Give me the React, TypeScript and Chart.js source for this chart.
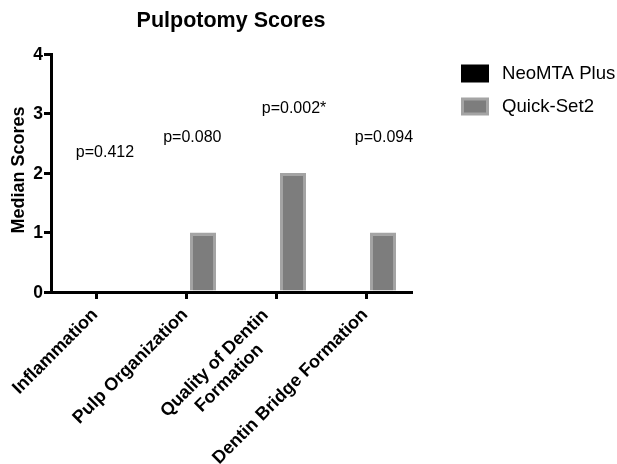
import React, { useEffect, useRef } from "react";
import { Chart, registerables } from "chart.js";

Chart.register(...registerables);

const categories: string[][] = [
  ["Inflammation"],
  ["Pulp Organization"],
  ["Quality of Dentin", "Formation"],
  ["Dentin Bridge Formation"],
];
const neoMTAPlus = [0, 0, 0, 0];
const quickSet2 = [0, 1, 2, 1];
const yTicks = [0, 1, 2, 3, 4];
const pValues = ["p=0.412", "p=0.080", "p=0.002*", "p=0.094"];
const pValueHeights = [2.35, 2.59, 3.09, 2.59];
const pValueShift = [0.1, 0.07, 0.2, 0.2];
const seriesNames = ["NeoMTA Plus", "Quick-Set2"];
const chartTitle = "Pulpotomy Scores";
const yTitle = "Median Scores";

const FONT = '"Liberation Sans", Arial, Helvetica, sans-serif';
const GRAY_FILL = "#7d7d7d";
const GRAY_BORDER = "#a4a4a4";

const decorPlugin = {
  id: "decor",
  afterDraw(chart: any) {
    const ctx = chart.ctx as CanvasRenderingContext2D;
    const area = chart.chartArea;
    const xs = chart.scales.x;
    const ys = chart.scales.y;
    ctx.save();
    ctx.fillStyle = "#000";

    // Title
    ctx.font = `bold 21.5px ${FONT}`;
    ctx.textAlign = "center";
    ctx.textBaseline = "alphabetic";
    ctx.fillText(chartTitle, (area.left + area.right) / 2, 27);

    // Y tick labels
    ctx.font = `bold 17.5px ${FONT}`;
    ctx.textAlign = "right";
    ctx.textBaseline = "middle";
    yTicks.forEach((v) => {
      ctx.fillText(String(v), area.left - 8, ys.getPixelForValue(v) + 1);
    });

    // Y title
    ctx.save();
    ctx.translate(19, (area.top + area.bottom) / 2 - 3);
    ctx.rotate(-Math.PI / 2);
    ctx.font = `bold 18px ${FONT}`;
    ctx.textAlign = "center";
    ctx.textBaseline = "middle";
    ctx.fillText(yTitle, 0, 0);
    ctx.restore();

    // X labels, rotated 45 deg
    ctx.font = `bold 18px ${FONT}`;
    const lh = 21;
    categories.forEach((lines, i) => {
      const x = xs.getPixelForValue(i);
      const y = area.bottom;
      ctx.save();
      ctx.translate(x - 1, y + 20);
      ctx.rotate(-Math.PI / 4);
      ctx.textAlign = "center";
      ctx.textBaseline = "middle";
      const w = Math.max(...lines.map((l) => ctx.measureText(l).width));
      const multi = lines.length > 1;
      lines.forEach((l, j) => {
        const off = (j - (lines.length - 1) / 2) * lh + (multi ? 4 : 0);
        ctx.fillText(l, -w / 2 - (multi ? 7 : 0), off);
      });
      ctx.restore();
    });

    // p-values
    ctx.font = `16px ${FONT}`;
    ctx.textAlign = "center";
    ctx.textBaseline = "middle";
    pValues.forEach((p, i) => {
      const x = xs.getPixelForDecimal((i + 0.5 + pValueShift[i]) / categories.length);
      const y = ys.getPixelForValue(pValueHeights[i]);
      ctx.fillText(p, x, y);
    });

    // Legend
    const lx = 461;
    const rows = [73.5, 106.5];
    ctx.font = `18.6px ${FONT}`;
    ctx.textAlign = "left";
    ctx.textBaseline = "middle";
    seriesNames.forEach((name, k) => {
      const cy = rows[k];
      if (k === 0) {
        ctx.fillStyle = "#000";
        ctx.fillRect(lx, cy - 9, 28, 18);
      } else {
        ctx.fillStyle = GRAY_BORDER;
        ctx.fillRect(lx, cy - 9, 28, 18);
        ctx.fillStyle = GRAY_FILL;
        ctx.fillRect(lx + 3, cy - 6, 22, 12);
      }
      ctx.fillStyle = "#000";
      ctx.fillText(name, lx + 41, cy);
    });

    ctx.restore();
  },
};

export default function App() {
  const ref = useRef<HTMLCanvasElement | null>(null);

  useEffect(() => {
    if (!ref.current) return;
    const chart = new Chart(ref.current, {
      type: "bar",
      data: {
        labels: categories,
        datasets: [
          {
            label: seriesNames[0],
            data: neoMTAPlus,
            backgroundColor: "#000",
            borderWidth: 0,
          },
          {
            label: seriesNames[1],
            data: quickSet2,
            backgroundColor: GRAY_FILL,
            borderColor: GRAY_BORDER,
            borderWidth: 3,
            borderSkipped: "start",
          },
        ],
      },
      options: {
        responsive: false,
        animation: false,
        devicePixelRatio: 1,
        categoryPercentage: 0.756,
        barPercentage: 0.765,
        layout: { padding: { left: 44, right: 206, top: 54, bottom: 165 } },
        plugins: {
          legend: { display: false },
          title: { display: false },
          tooltip: { enabled: false },
        },
        scales: {
          x: {
            offset: true,
            grid: {
              display: true,
              offset: false,
              drawOnChartArea: false,
              drawTicks: true,
              tickLength: 7,
              color: "#000",
              lineWidth: 3,
            },
            border: { display: true, color: "#000", width: 3 },
            ticks: { display: false },
          },
          y: {
            min: 0,
            max: 4,
            ticks: { display: false, stepSize: 1 },
            grid: {
              display: true,
              drawOnChartArea: false,
              drawTicks: true,
              tickLength: 7,
              color: "#000",
              lineWidth: 3,
            },
            border: { display: true, color: "#000", width: 3 },
          },
        },
      } as any,
      plugins: [decorPlugin],
    });
    return () => chart.destroy();
  }, []);

  return (
    <div style={{ position: "fixed", left: 0, top: 0, width: 617, height: 464, background: "#fff" }}>
      <canvas ref={ref} width={617} height={464} style={{ display: "block" }} />
    </div>
  );
}
